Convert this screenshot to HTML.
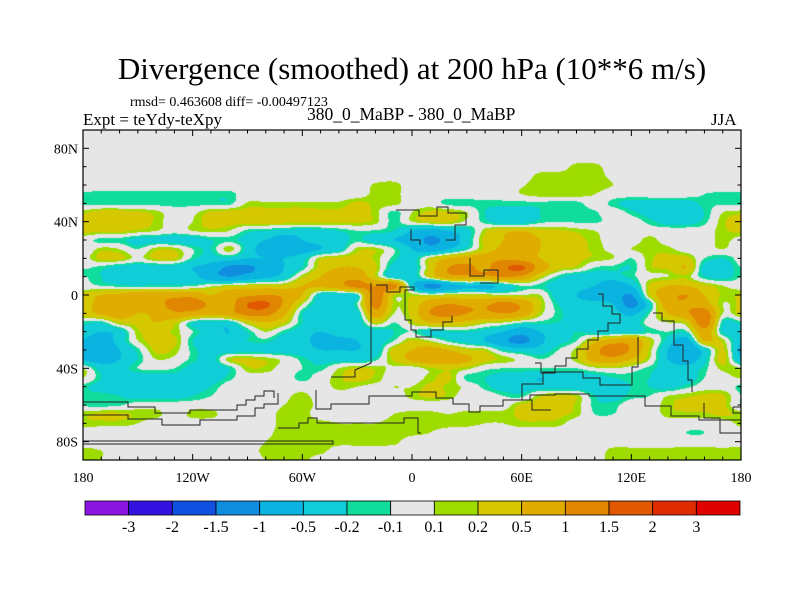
<!DOCTYPE html>
<html><head><meta charset="utf-8">
<style>
body{margin:0;background:#fff;width:800px;height:600px;overflow:hidden;position:relative;font-family:"Liberation Serif",serif;}
.t{position:absolute;white-space:nowrap;color:#000;}
</style></head>
<body>
<div class="t" style="left:0;width:824px;text-align:center;top:51px;font-size:31px;">Divergence (smoothed) at 200 hPa (10**6 m/s)</div>
<div class="t" style="left:130px;top:95px;font-size:14px;">rmsd= 0.463608 diff= -0.00497123</div>
<div class="t" style="left:83px;top:110px;font-size:17px;">Expt = teYdy-teXpy</div>
<div class="t" style="left:307px;top:104px;font-size:17.5px;">380_0_MaBP - 380_0_MaBP</div>
<div class="t" style="left:711px;top:110px;font-size:17px;">JJA</div>
<canvas id="map" width="658" height="330" style="position:absolute;left:83px;top:130px;"></canvas>
<svg id="ov" width="800" height="600" style="position:absolute;left:0;top:0;"></svg>
<script>
const lons=[];for(let i=0;i<36;i++)lons.push(-180+10*i);
const lats=[];for(let j=0;j<37;j++)lats.push(90-5*j);
const levels=[-3,-2,-1.5,-1,-0.5,-0.2,-0.1,0.1,0.2,0.5,1,1.5,2,3];
const levelLabels=["-3","-2","-1.5","-1","-0.5","-0.2","-0.1","0.1","0.2","0.5","1","1.5","2","3"];
const colors=["#8a14e0","#3412e0","#1150e0","#0f8ee0","#0bb4e0","#10cdd8","#10dc9c","#e6e6e6","#9edc00","#d6c800","#e0ac00","#e08600","#e05800","#e02a00","#e00000"];
const xTickLabels=["180","120W","60W","0","60E","120E","180"];
const xTickLons=[-180,-120,-60,0,60,120,180];
const yTickLabels=["80N","40N","0","40S","80S"];
const yTickLats=[80,40,0,-40,-80];
const g=[
[0,0,0,0,0,0,0,0,0,0,0,0,0,0,0,0,0,0,0,0,0,0,0,0,0,0,0,0,0,0,0,0,0,0,0,0],
[0,0,0,0,0,0,0,0,0,0,0,0,0,0,0,0,0,0,0,0,0,0,0,0,0,0,0,0,0,0,0,0,0,0,0,0],
[0,0,0,0,0,0,0,0,0,0,0,0,0,0,0,0,0,0,0,0,0,0,0,0,0,0,0,0,0,0,0,0,0,0,0,0],
[0,0,0,0,0,0,0,0,0,0,0,0,0,0,0,0,0,0,0,0,0,0,0,0,0,0,0,0,0,0,0,0,0,0,0,0],
[0,0,0,0,0,0,0,0,0,0,0,0,0,0,0,0,0,0,0,0,0,0,0,0,0,0,0,0.15,0.15,0,0,0,0,0,0,0],
[0,0,0,0,0,0,0,0,0,0,0,0,0,0,0,0,0,0,0,0,0,0,0,0,0,0.15,0.17,0.17,0.17,0.05,0,0,0,0,0,0],
[0,0,0,0,0,0,0,0,0,0,0,0,0,0,0,0,0.12,0.15,0,0,0,0,0,0,0.08,0.17,0.17,0.17,0.17,0.1,0,0,0,0,0,0],
[-0.12,-0.15,-0.15,-0.15,-0.15,-0.15,-0.15,-0.15,-0.15,0,0,0,0,0,0,0,0.15,0.15,0,0,0,0,0,0,0.1,0.17,0.17,0.17,0.1,0,0,0,0,0,-0.1,-0.12],
[-0.15,-0.15,-0.15,-0.15,-0.15,-0.15,-0.15,-0.15,-0.15,0.12,0.12,0.12,0.12,0.12,0.12,0.24,0.17,0.15,0,0,-0.15,-0.15,-0.15,-0.15,-0.15,-0.15,-0.15,-0.15,0,-0.15,-0.3,-0.3,-0.3,-0.3,-0.15,-0.12],
[0.17,0.28,0.28,0.24,0.15,0,0.05,0.24,0.28,0.28,0.28,0.28,0.28,0.24,0.24,0.28,0.15,-0.15,0.1,0.24,0.24,0.1,-0.2,-0.3,-0.3,-0.2,-0.12,-0.15,-0.12,0,-0.15,-0.3,-0.35,-0.3,-0.2,0.1],
[0.28,0.28,0.28,0.28,0.17,0,0.1,0.28,0.28,0.28,0.28,0.28,0.28,0.28,0.24,0.24,0.15,-0.15,0.1,0.24,0.24,0.05,-0.15,-0.35,-0.35,-0.15,-0.1,-0.12,-0.12,-0.05,0,-0.15,-0.3,-0.3,-0.15,0.17],
[0.24,0.24,0.24,0.17,0.1,0,0.1,0.15,0.1,-0.15,-0.2,-0.3,-0.35,-0.3,-0.2,-0.1,-0.12,-0.2,-0.5,-0.7,-0.5,-0.3,0.17,0.4,0.5,0.28,0.24,0.17,0.1,0,0,0,0,0,0,0.17],
[0,-0.15,-0.15,-0.3,-0.3,-0.35,-0.35,-0.2,-0.15,-0.3,-0.5,-0.7,-0.5,-0.35,-0.3,-0.15,-0.35,-0.5,-0.7,-1.1,-0.8,-0.3,0.28,0.5,0.8,0.5,0.28,0.24,0.15,0,0,0.15,0,0,0,0.15],
[-0.05,0.15,0.1,-0.1,0.17,0.17,-0.1,-0.2,0.17,-0.3,-0.7,-0.7,-0.7,-0.5,-0.3,0.15,0.17,-0.1,-0.5,-0.8,-0.5,-0.15,0.28,0.6,0.7,0.5,0.28,0.24,0.17,0.05,0.1,0.17,0.15,0,0,0.1],
[0,0.24,0.24,0.05,0.24,0.24,-0.15,-0.3,-0.3,-0.5,-0.5,-0.5,-0.3,0.17,0.28,0.28,0.17,-0.15,-0.3,0.17,0.5,0.7,0.8,0.9,0.8,0.5,0.28,0.24,0.17,0.1,-0.1,0.17,0.24,0.28,-0.1,-0.2],
[-0.1,-0.15,-0.3,-0.35,-0.35,-0.35,-0.5,-0.7,-1.1,-1.1,-0.8,-0.5,-0.2,0.28,0.5,0.5,0.24,-0.3,-0.35,0.28,1.0,1.1,0.9,1.4,1.6,0.8,0.28,0.17,-0.1,-0.15,-0.2,0.17,0.24,0.5,-0.3,-0.35],
[-0.1,-0.2,-0.35,-0.35,-0.3,-0.3,-0.35,-0.8,-1.0,-0.8,-0.6,-0.35,0.17,0.5,0.8,0.8,0.24,-0.35,-0.35,0.24,0.8,0.9,0.9,1.0,0.9,0.24,-0.15,-0.35,-0.35,-0.3,-0.15,0.05,0.1,0.17,-0.2,-0.3],
[0,-0.1,-0.15,-0.2,-0.15,-0.15,-0.12,0.05,0.17,0.24,0.28,0.28,0.5,0.6,0.8,1.2,1.0,1.2,-0.35,-1.2,-0.8,-0.5,-0.6,-0.35,-0.1,-0.15,-0.35,-0.35,-0.5,-0.8,-0.5,0.24,0.5,0.5,0.28,0.1],
[0.24,0.5,0.6,0.8,0.8,0.8,0.8,0.5,0.8,0.9,1.0,0.9,0.5,-0.3,-0.35,-0.2,1.3,0.24,0.17,0.1,0.17,0.17,0.17,0.1,0.1,0.1,-0.35,-0.5,-0.8,-0.8,-1.0,0.24,0.8,1.0,0.5,0.17],
[0.28,0.7,0.9,0.7,0.8,1.2,1.3,0.9,0.8,1.5,1.6,0.9,0.1,-0.35,-0.35,-0.1,1.2,0.17,0.28,0.8,1.0,0.9,0.9,1.2,0.9,0.24,-0.2,-0.35,-0.35,-0.5,-1.2,-0.3,0.8,0.9,0.7,0.1],
[0.28,0.6,0.8,0.5,0.6,0.9,0.8,0.6,0.8,1.2,1.2,0.6,-0.2,-0.35,-0.35,-0.3,0.8,0.1,0.28,1.0,1.2,1.0,0.9,1.0,0.8,0.17,-0.15,-0.3,-0.35,-0.35,-0.6,-0.1,0.5,0.9,1.3,0.1],
[-0.15,-0.2,0.24,0.28,0.5,0.28,-0.2,-0.35,-0.3,0.24,0.5,0.24,-0.2,-0.35,-0.35,-0.35,0.24,-0.1,0.17,0.5,0.5,0.4,0.17,0.1,-0.1,-0.15,-0.2,-0.3,-0.3,-0.35,-0.35,0,0.1,0.24,1.3,-0.2],
[-0.3,-0.5,-0.35,0.17,0.24,0.17,-0.1,-0.35,-0.5,-0.2,0.1,-0.15,-0.35,-0.5,-0.35,-0.35,-0.35,-0.2,-0.1,-0.3,-0.2,-0.2,-0.3,-0.5,-0.8,-0.5,-0.35,-0.2,-0.3,-0.35,-0.3,-0.15,-0.1,-0.15,0.8,-0.25],
[-0.5,-0.7,-0.35,0.1,0.28,0.24,-0.2,-0.35,-0.35,-0.2,-0.15,-0.35,-0.35,-0.7,-0.6,-0.5,-0.35,-0.1,0.24,0.1,-0.15,-0.3,-0.5,-0.9,-1.2,-0.6,-0.3,-0.1,0.4,0.7,0.8,0.24,-0.3,-0.7,0.5,0.17],
[-0.6,-0.8,-0.5,-0.15,0.24,0.17,-0.15,-0.3,-0.35,-0.3,-0.3,-0.35,-0.35,-0.5,-0.5,-0.5,-0.35,0.28,0.5,0.7,0.5,0.24,0.17,-0.2,-0.35,-0.35,-0.1,0.17,0.8,1.4,0.9,0.17,-0.5,-1.0,-0.35,0.24],
[-0.5,-0.7,-0.5,-0.2,0.1,0.05,-0.15,-0.3,0.17,0.24,0.17,0.05,-0.15,-0.3,-0.3,-0.35,-0.15,0.24,0.6,0.8,0.8,0.6,0.28,0.17,0.05,-0.1,0,0.17,0.7,0.8,0.5,0.1,-0.5,-0.8,-0.3,0.28],
[0.1,-0.3,-0.3,-0.1,-0.05,-0.1,-0.3,-0.35,-0.2,0.17,0.17,0,-0.1,-0.15,0.1,0.22,0.17,0.05,0,0.17,0.24,0.15,-0.05,-0.1,-0.1,-0.1,-0.1,-0.1,0.05,0.1,0,-0.15,-0.3,-0.35,-0.15,0.15],
[0.1,-0.2,-0.35,-0.35,-0.35,-0.3,-0.35,-0.35,-0.15,0,0,0,-0.15,0,0.17,0.28,0.17,0,0,0.15,0.24,-0.15,-0.2,-0.3,-0.35,-0.5,-0.35,-0.35,-0.3,-0.2,-0.15,-0.2,-0.3,-0.35,-0.1,0],
[-0.15,-0.3,-0.35,-0.3,-0.3,-0.3,-0.3,-0.2,0,0,0,0,0,0,0.15,0.1,0.05,0.1,0.1,0.24,0.17,0.05,-0.15,-0.3,-0.3,-0.35,-0.35,-0.35,-0.35,-0.3,-0.2,-0.2,-0.3,-0.15,0,0],
[-0.1,-0.15,-0.2,-0.3,-0.3,-0.3,-0.2,-0.1,0,0,0,0.05,0.15,0,0,0,0,0,0.15,0.24,0.17,0,0,-0.1,-0.15,0.17,0.24,0.17,-0.2,-0.3,-0.15,-0.1,0.1,0.17,0.24,0.24],
[-0.1,-0.15,-0.12,0,0,0,0,0,0,0,0,0.1,0.17,0.05,0.05,0,0,0,0,0,0,0,0,0,0.24,0.28,0.28,0.17,-0.15,-0.15,0,0,0.17,0.24,0.28,0.24],
[0.17,0.24,0.24,0.17,0.15,0,0.15,0.15,0,0,0,0.17,0.17,0,0,0,0,0.1,0.15,0.15,0.1,0.15,0.15,0.15,0.24,0.28,0.24,0.15,-0.1,-0.1,0,0,0.15,0.17,0.17,0.24],
[0.15,0.15,0.15,0.1,0,0,0,0,0,0,0,0.17,0.17,0.15,0.1,0.1,0.1,0.15,0.17,0.17,0.17,0.15,0.1,0.1,0.17,0.17,0.15,0,0,0,0,0,0,0,0,0],
[0,0,0,0,0,0,0,0,0,0,0.05,0.17,0.17,0.15,0.17,0.17,0.17,0.17,0.15,0.1,0,0,0,0,0,0,0,0,0,0,0,0,0,-0.1,-0.1,0],
[0,0,0,0,0,0,0,0,0,0,0.1,0.17,0.17,0.17,0.17,0.17,0.17,0.15,0,0,0,0,0,0,0,0,0,0,0,0,0,0,0,0,0,0],
[0.15,0.1,0.05,0,0,0,0,0,0,0,0.15,0.17,0.17,0.15,0,0,0,0,0,0,0,0,0,0,0,0,0,0,0,0.15,0.15,0.15,0.15,0.15,0.15,0.15],
[0.15,0.1,0,0,0,0,0,0,0,0,0.1,0.17,0.15,0,0,0,0,0,0,0,0,0,0,0,0,0,0,0,0,0.17,0.17,0.17,0.17,0.17,0.17,0.17]
];
const X0=83,X1=741,Y0=130,Y1=460;
function xOf(lon){return X0+(lon+180)*(X1-X0)/360;}
function yOf(lat){return Y0+(90-lat)*(Y1-Y0)/180;}
function cr(p0,p1,p2,p3,t){return 0.5*((2*p1)+(-p0+p2)*t+(2*p0-5*p1+4*p2-p3)*t*t+(-p0+3*p1-3*p2+p3)*t*t*t);}
function gv(j,i){j=Math.max(0,Math.min(lats.length-1,j));i=((i%36)+36)%36;return g[j][i];}
function val(lon,lat){
  const fi=(lon+180)/10, fj=(90-lat)/5;
  const i=Math.floor(fi), j=Math.floor(fj), tx=fi-i, ty=fj-j;
  const r=[];
  for(let k=-1;k<=2;k++){r.push(cr(gv(j+k,i-1),gv(j+k,i),gv(j+k,i+1),gv(j+k,i+2),tx));}
  return cr(r[0],r[1],r[2],r[3],ty);
}
const cv=document.getElementById('map');const ctx=cv.getContext('2d');
const W=cv.width,H=cv.height;const img=ctx.createImageData(W,H);
const rgb=colors.map(c=>[parseInt(c.substr(1,2),16),parseInt(c.substr(3,2),16),parseInt(c.substr(5,2),16)]);
for(let py=0;py<H;py++){const lat=90-(py+0.5)*180/H;
 for(let px=0;px<W;px++){const lon=-180+(px+0.5)*360/W;const v=val(lon,lat);
  let k=0;while(k<levels.length&&v>=levels[k])k++;const c=rgb[k];const o=(py*W+px)*4;
  img.data[o]=c[0];img.data[o+1]=c[1];img.data[o+2]=c[2];img.data[o+3]=255;}}
ctx.putImageData(img,0,0);
const NS='http://www.w3.org/2000/svg';const ov=document.getElementById('ov');
function mk(tag,attrs){const e=document.createElementNS(NS,tag);for(const k in attrs)e.setAttribute(k,attrs[k]);ov.appendChild(e);return e;}
const coasts=[
"83,402 128,402 128,407 155,407 155,413 190,413 190,410 237,410 237,405 246,405 246,400 255,400 255,396 264,396 264,391 274,391 274,398",
"83,415 128,415 128,419 162,419 162,425 200,425 200,420 237,420 237,416 255,416 255,408 264,408 264,404 278,404 278,393",
"83,441 333,441 333,444 83,444",
"278,428 299,428 299,423 308,423 308,418 317,418 317,423 404,423 404,418 418,418 418,433 421,433",
"316,390 316,409 331,409 331,404 369,404 369,396 412,396 412,392 436,392 436,398 453,398 453,404 469,404 469,412 480,412 480,406 503,406 503,400 530,400 530,395 555,395 555,394 589,394 589,396 645,396 645,406 671,406 671,416 699,416 699,420 741,420",
"371,283 371,363 355,370 355,377 331,377",
"376,285 387,285 387,292 400,292 400,287 414,287 414,290 405,290 405,301 405,320 411,320 411,330 416,330 416,337 431,337 431,330 443,330 443,322 452,322 452,316",
"396,210 419,210 419,216 437,216 437,207 448,207 448,213 466,213 466,225 455,225 455,240 446,240",
"411,229 411,240 420,240 420,245",
"470,258 470,276 484,276 484,270 498,270 498,283 480,283",
"598,294 603,294 603,306 612,306 612,314 620,314 620,323 608,323 608,331 598,331 598,340 588,340 588,349 577,349 577,358 566,358 566,366 555,366 555,373 541,373 541,363 535,363",
"653,313 662,313 662,321 674,321 674,345 683,345 683,361 688,361 688,380 692,380 692,392",
"638,337 638,367 632,367 632,385 600,385 600,378 583,378 583,372 543,372 543,384 522,384 522,400 532,400 532,410 551,410",
"704,403 704,418 720,418 720,433 741,433",
"733,407 741,407 741,413 733,413 733,407"
];
coasts.forEach(pts=>{
const p=mk('polyline',{points:pts,fill:'none',stroke:'#222','stroke-width':1});


});
const fr=mk('rect',{x:X0,y:Y0,width:X1-X0,height:Y1-Y0,fill:'none',stroke:'#000','stroke-width':1.2});


for(let lon=-180;lon<=180;lon+=10){const x=xOf(lon);const major=lon%60===0;const L=major?6:3.5;
 mk('line',{x1:x,y1:Y1,x2:x,y2:Y1-L,stroke:'#000'});mk('line',{x1:x,y1:Y0,x2:x,y2:Y0+L,stroke:'#000'});}
for(let lat=-90;lat<=90;lat+=10){const y=yOf(lat);const major=(lat%40===0&&Math.abs(lat)<=80);const L=major?6:3.5;
 mk('line',{x1:X0,y1:y,x2:X0+L,y2:y,stroke:'#000'});mk('line',{x1:X1,y1:y,x2:X1-L,y2:y,stroke:'#000'});}
xTickLabels.forEach((s,k)=>{const t=mk('text',{x:xOf(xTickLons[k]),y:482,'text-anchor':'middle','font-family':'Liberation Serif, serif','font-size':14});t.textContent=s;

});
yTickLabels.forEach((s,k)=>{const t=mk('text',{x:78,y:yOf(yTickLats[k])+5,'text-anchor':'end','font-family':'Liberation Serif, serif','font-size':14});t.textContent=s;

});
const CB0=85,CB1=740,CBY=501,CBH=14;const bw=(CB1-CB0)/colors.length;
colors.forEach((c,k)=>{const r=mk('rect',{x:CB0+k*bw,y:CBY,width:bw,height:CBH,fill:c,stroke:'#000','stroke-width':0.8});

});
levelLabels.forEach((s,k)=>{const t=mk('text',{x:CB0+(k+1)*bw,y:532,'text-anchor':'middle','font-family':'Liberation Serif, serif','font-size':16});t.textContent=s;

});
</script>
</body></html>
